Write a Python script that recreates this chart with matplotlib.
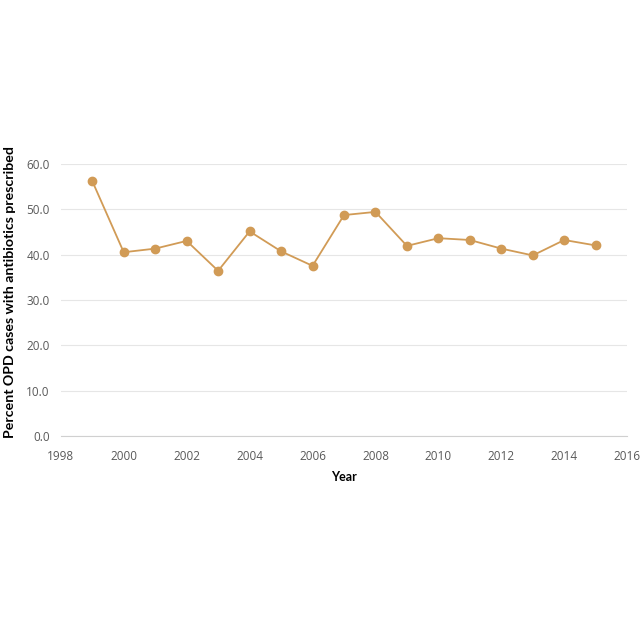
import matplotlib
matplotlib.use("Agg")
import matplotlib.pyplot as plt

years = [1999, 2000, 2001, 2002, 2003, 2004, 2005, 2006, 2007, 2008,
         2009, 2010, 2011, 2012, 2013, 2014, 2015]
percent = [56.2, 40.5, 41.3, 43.0, 36.4, 45.1, 40.7, 37.5, 48.7, 49.4,
           41.9, 43.6, 43.2, 41.3, 39.8, 43.2, 42.0]
xticks = [1998, 2000, 2002, 2004, 2006, 2008, 2010, 2012, 2014, 2016]
yticks = [0, 10, 20, 30, 40, 50, 60]

plt.rcParams['font.family'] = ['Open Sans', 'DejaVu Sans']

fig = plt.figure(figsize=(6.4, 6.4), dpi=100)
ax = fig.add_axes([0.095, 0.319, 0.885, 0.425])
color = '#D19B56'
ax.plot(years, percent, color=color, linewidth=1.3, marker='o', markersize=6,
        markerfacecolor=color, markeredgecolor=color, zorder=3)
ax.set_xlim(1998, 2016)
ax.set_ylim(0, 60)
ax.set_xticks(xticks)
ax.set_yticks(yticks)
ax.set_yticklabels([f"{v:.1f}" for v in yticks])
ax.grid(axis='y', color='#E6E6E6', linewidth=0.8)
ax.set_axisbelow(True)
for s in ['top', 'right', 'left']:
    ax.spines[s].set_visible(False)
ax.spines['bottom'].set_color('#D0D0D0')
ax.tick_params(axis='x', length=0, labelsize=8.5, labelcolor='#595959', pad=10)
ax.tick_params(axis='y', length=0, labelsize=8.5, labelcolor='#595959', pad=8)
ax.set_xlabel('Year', fontsize=9, fontweight='bold', color='black', labelpad=6,
              family=['Lato', 'DejaVu Sans'])
fig.text(0.016, 0.543, 'Percent OPD cases with antibiotics prescribed',
         rotation=90, ha='center', va='center', fontsize=10.2, fontweight='bold',
         color='black', family=['Lato', 'DejaVu Sans'])
fig.savefig('out.png', dpi=100, facecolor='white')
